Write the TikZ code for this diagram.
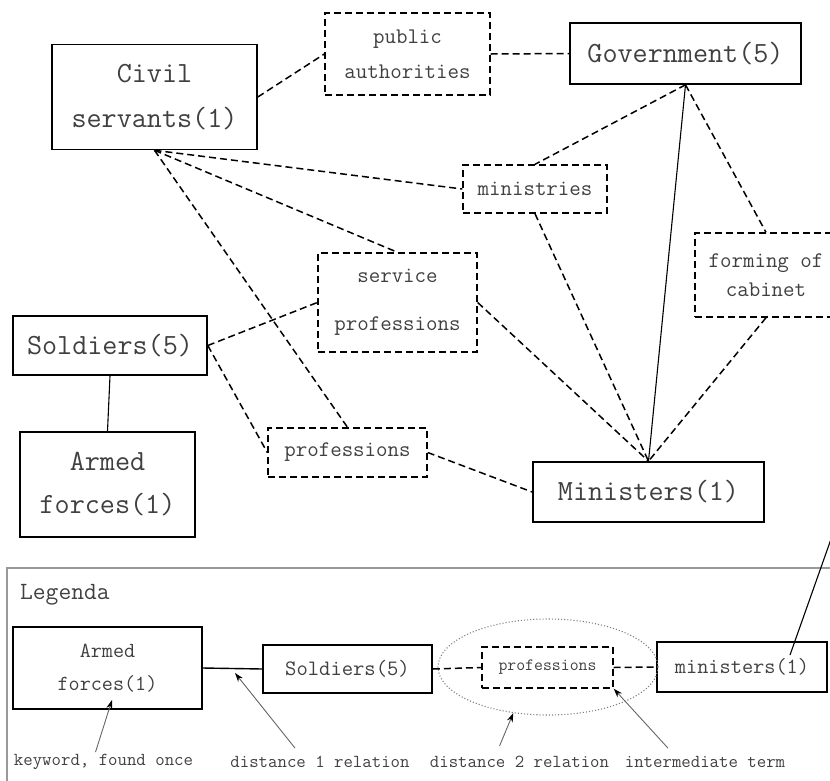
\documentclass[tikz,border=0pt]{standalone}
\usepackage{fontspec}
\usetikzlibrary{shapes.geometric,arrows.meta}

\begin{document}
\begin{tikzpicture}[x=1pt,y=-1pt,
    kw/.style={draw,line width=1.6pt,inner sep=0pt,align=center,text=black!75},
    mid/.style={draw,line width=1.4pt,dash pattern=on 7pt off 4pt,inner sep=0pt,align=center,text=black!75},
    link/.style={line width=1.5pt,dash pattern=on 7pt off 4pt},
    note/.style={-{Stealth[length=9pt,width=6pt,black]},draw=black!60,line width=0.9pt},
    big/.style={font=\ttfamily\fontsize{29.3}{45}\selectfont},
    small/.style={font=\ttfamily\fontsize{22.3}{35}\selectfont}]
      \useasboundingbox (0,0) rectangle (830,780);
      \clip (0,0) rectangle (830,780);

      % keywords
      \node[kw,big,minimum width=205pt,minimum height=105pt] (civil) at (154.5,97) {Civil\\servants(1)};
      \node[kw,big,minimum width=231pt,minimum height=61pt] (gov) at (685.5,53.5) {Government(5)};
      \node[kw,big,minimum width=194pt,minimum height=59pt] (soldiers) at (110,345.5) {Soldiers(5)};
      \node[kw,big,minimum width=175pt,minimum height=105pt,font=\ttfamily\fontsize{29.3}{43}\selectfont] (armed) at (107.5,484.5) {Armed\\forces(1)};
      \node[kw,big,minimum width=231pt,minimum height=60pt] (ministers) at (648.5,492) {Ministers(1)};

      % intermediate terms
      \node[mid,small,minimum width=165pt,minimum height=82pt] (public) at (407.5,54) {public\\authorities};
      \node[mid,small,minimum width=144pt,minimum height=48pt] (ministries) at (535,189) {ministries};
      \node[mid,small,minimum width=142pt,minimum height=84pt,font=\ttfamily\fontsize{22.3}{29}\selectfont] (forming) at (766,275) {forming of\\cabinet};
      \node[mid,small,minimum width=159pt,minimum height=99pt,font=\ttfamily\fontsize{22.3}{48}\selectfont] (service) at (397.5,302.5) {service\\professions};
      \node[mid,small,minimum width=159pt,minimum height=49pt] (professions) at (347.5,452.5) {professions};

      % relations
      \draw[link] (civil.east) -- (public.west);
      \draw[link] (public.east) -- (gov.west);
      \draw[link] (gov.south) -- (ministries.north);
      \draw[link] (gov.south) -- (forming.north);
      \draw[line width=1.1pt] (gov.south) -- (ministers.north);
      \draw[link] (civil.south) -- (ministries.west);
      \draw[link] (civil.south) -- (service.north);
      \draw[link] (civil.south) -- (professions.north);
      \draw[line width=1.1pt] (soldiers.south) -- (armed.north);
      \draw[link] (soldiers.east) -- (service.west);
      \draw[link] (soldiers.east) -- (professions.west);
      \draw[link] (ministries.south) -- (ministers.north);
      \draw[link] (service.east) -- (ministers.north);
      \draw[link] (forming.south) -- (ministers.north);
      \draw[link] (professions.east) -- (ministers.west);

      % Legenda
      \draw[black!40,line width=1.5pt] (7,568) rectangle (860,820);
      \node[anchor=west,inner sep=0pt,text=black!75,font=\ttfamily\fontsize{24.8}{30}\selectfont] (legenda) at (20,595) {Legenda};

      \node[kw,minimum width=189pt,minimum height=82pt,font=\ttfamily\fontsize{21.5}{33}\selectfont] (lgarmed) at (107.5,668) {Armed\\forces(1)};
      \node[kw,minimum width=169pt,minimum height=48pt,font=\ttfamily\fontsize{22}{26}\selectfont] (lgsoldiers) at (347.5,669) {Soldiers(5)};
      \node[mid,minimum width=131pt,minimum height=41pt,font=\ttfamily\fontsize{17.3}{21}\selectfont] (lgprof) at (547.5,667.5) {professions};
      \node[kw,minimum width=170pt,minimum height=50pt,font=\ttfamily\fontsize{21.7}{26}\selectfont] (lgministers) at (742,667) {ministers(1)};
      \node[draw=black!50,line width=1.1pt,dotted,ellipse,minimum width=220pt,minimum height=96pt] (ring) at (548,667) {};

      \draw[line width=1.4pt] (lgarmed.east) -- (lgsoldiers.west);
      \draw[link] (lgsoldiers.east) -- (lgprof.west);
      \draw[link] (lgprof.east) -- (lgministers.west);

      % line leaving the picture
      \coordinate (away) at (842,508);
      \draw[line width=1.1pt] ([xshift=48pt,yshift=12pt]lgministers.center) -- (away);

      % explanations
      \node[inner sep=0pt,text=black!75,font=\ttfamily\fontsize{18.3}{22}\selectfont] (kwtxt) at (103.5,762) {keyword, found once};
      \node[inner sep=0pt,text=black!75,font=\ttfamily\fontsize{18.3}{22}\selectfont] (d1txt) at (320,762) {distance 1 relation};
      \node[inner sep=0pt,text=black!75,font=\ttfamily\fontsize{18.3}{22}\selectfont] (d2txt) at (519.5,762) {distance 2 relation};
      \node[inner sep=0pt,text=black!75,font=\ttfamily\fontsize{18.3}{22}\selectfont] (intxt) at (705,762) {intermediate term};

      \coordinate (kwpt) at (112,700);
      \coordinate (d1pt) at (235,673);
      \draw[note] ([xshift=-8pt,yshift=2pt]kwtxt.north) -- (kwpt);
      \draw[note] ([xshift=-25pt,yshift=8pt]d1txt.north) -- (d1pt);
      \draw[note] ([xshift=-20pt,yshift=10pt]d2txt.north) -- (ring.233);
      \draw[note] ([xshift=-37pt,yshift=8pt]intxt.north) -- (lgprof.south east);
\end{tikzpicture}
\end{document}
